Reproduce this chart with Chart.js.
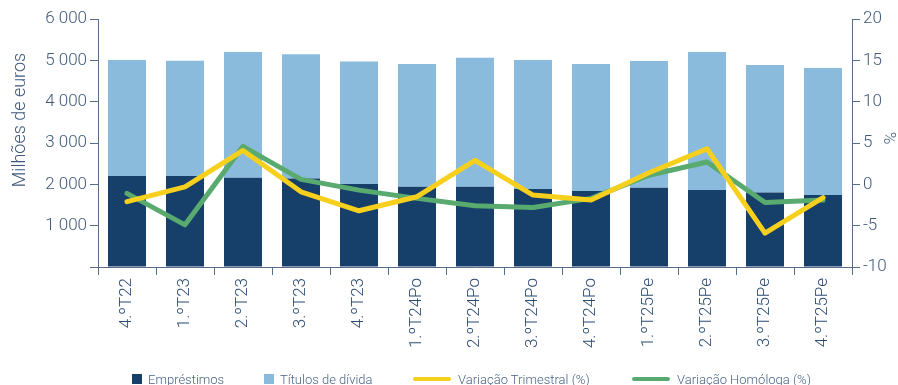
<!DOCTYPE html>
<html>
<head>
<meta charset="utf-8">
<script src="https://cdn.jsdelivr.net/npm/chart.js@4/dist/chart.umd.min.js"></script>
<style>
  html, body { margin: 0; padding: 0; background: #ffffff; }
  #wrap { position: relative; width: 898px; height: 385px; overflow: hidden; }
  #chart { position: absolute; left: 0; top: 0; }
  #legend { position: absolute; left: 0; top: 371px; width: 898px; height: 16px;
            font-family: Roboto, "Liberation Sans", sans-serif; font-weight: 300;
            font-size: 13px; color: #4a6484; }
  .item { position: absolute; top: 0; display: flex; align-items: center; height: 16px; white-space: nowrap; }
  .box { width: 10px; height: 10px; margin-right: 6px; }
  .ln { width: 38px; height: 4px; border-radius: 2px; margin-right: 7px; }
</style>
</head>
<body>
<div id="wrap">
  <canvas id="chart" width="898" height="385"></canvas>
  <div id="legend"></div>
</div>
<script>
// Quarters shown on the category axis
const categories = ['4.ºT22', '1.ºT23', '2.ºT23', '3.ºT23', '4.ºT23', '1.ºT24Po', '2.ºT24Po',
                    '3.ºT24Po', '4.ºT24Po', '1.ºT25Pe', '2.ºT25Pe', '3.ºT25Pe', '4.ºT25Pe'];

// Stock, millions of euros
const emprestimos = [2200, 2200, 2160, 2140, 2010, 1940, 1940, 1890, 1840, 1920, 1860, 1800, 1740];
const titulosDivida = [2810, 2790, 3040, 3010, 2960, 2970, 3120, 3120, 3070, 3065, 3340, 3090, 3075];

// Rates of change, %
const variacaoTrimestral = [-2.1, -0.3, 4.1, -0.9, -3.2, -1.5, 2.9, -1.3, -1.9, 1.4, 4.3, -5.9, -1.6];
const variacaoHomologa = [-1.1, -4.9, 4.6, 0.6, -0.7, -1.7, -2.6, -2.8, -1.7, 1.1, 2.7, -2.2, -1.9];

// Axis ticks (the zero of the stock axis carries a tick mark but no label)
const leftTicks = [0, 1000, 2000, 3000, 4000, 5000, 6000];
const rightTicks = [-10, -5, 0, 5, 10, 15, 20];

const seriesNames = ['Empréstimos', 'Títulos de dívida', 'Variação Trimestral (%)', 'Variação Homóloga (%)'];

const C = {
  navy: '#163f69',
  light: '#8bbbdc',
  yellow: '#f7cf1d',
  green: '#59aa6f',
  axis: '#566d8c',
  text: '#40597b',
  xText: '#2b4b73'
};

const FONT = 'Roboto, "Liberation Sans", sans-serif';

function fmtThousands(v) {
  return String(v).replace(/\B(?=(\d{3})+(?!\d))/g, ' ');
}

// Axis titles placed beside the value axes
const axisTitles = {
  id: 'axisTitles',
  afterDraw(chart) {
    const ctx = chart.ctx;
    ctx.save();
    ctx.fillStyle = C.text;
    ctx.font = '300 18px ' + FONT;
    ctx.textAlign = 'center';
    ctx.textBaseline = 'middle';
    ctx.translate(20, 120);
    ctx.rotate(-Math.PI / 2);
    ctx.fillText('Milhões de euros', 0, 0);
    ctx.restore();

    ctx.save();
    ctx.fillStyle = C.text;
    ctx.font = '300 17px ' + FONT;
    ctx.textAlign = 'center';
    ctx.textBaseline = 'middle';
    ctx.translate(888, 138);
    ctx.rotate(Math.PI / 2);
    ctx.fillText('%', 0, 0);
    ctx.restore();
  }
};

const tickFont = { family: FONT, size: 17, weight: '300' };

const chart = new Chart(document.getElementById('chart'), {
  type: 'bar',
  data: {
    labels: categories,
    datasets: [
      { type: 'bar', label: seriesNames[0], data: emprestimos, backgroundColor: C.navy,
        yAxisID: 'y', stack: 's', order: 3, barPercentage: 0.655, categoryPercentage: 1 },
      { type: 'bar', label: seriesNames[1], data: titulosDivida, backgroundColor: C.light,
        yAxisID: 'y', stack: 's', order: 3, barPercentage: 0.655, categoryPercentage: 1 },
      { type: 'line', label: seriesNames[2], data: variacaoTrimestral, borderColor: C.yellow,
        backgroundColor: C.yellow, borderWidth: 5, pointRadius: 0, tension: 0,
        borderCapStyle: 'round', borderJoinStyle: 'round', yAxisID: 'y1', order: 1 },
      { type: 'line', label: seriesNames[3], data: variacaoHomologa, borderColor: C.green,
        backgroundColor: C.green, borderWidth: 5, pointRadius: 0, tension: 0,
        borderCapStyle: 'round', borderJoinStyle: 'round', yAxisID: 'y1', order: 2 }
    ]
  },
  options: {
    responsive: false,
    animation: false,
    layout: { padding: { top: 19, left: 0, right: 0, bottom: 0 } },
    plugins: {
      legend: { display: false },
      tooltip: { enabled: false }
    },
    scales: {
      x: {
        stacked: true,
        offset: true,
        grid: { display: true, drawOnChartArea: false, offset: true, tickLength: 8,
                color: C.axis, lineWidth: 1 },
        border: { display: true, color: C.axis, width: 1 },
        ticks: { maxRotation: 90, minRotation: 90, autoSkip: false, padding: 3,
                 color: C.xText, font: tickFont },
        afterFit(s) { s.height = 118; }
      },
      y: {
        position: 'left',
        stacked: true,
        min: leftTicks[0],
        max: leftTicks[leftTicks.length - 1],
        afterBuildTicks(s) { s.ticks = leftTicks.map(v => ({ value: v })); },
        grid: { display: true, drawOnChartArea: false, tickLength: 8, color: C.axis, lineWidth: 1 },
        border: { display: true, color: C.axis, width: 1 },
        ticks: { color: C.text, font: tickFont, padding: 3,
                 callback: v => (v === 0 ? '' : fmtThousands(v)) },
        afterFit(s) { s.width = 98; }
      },
      y1: {
        position: 'right',
        min: rightTicks[0],
        max: rightTicks[rightTicks.length - 1],
        afterBuildTicks(s) { s.ticks = rightTicks.map(v => ({ value: v })); },
        grid: { display: true, drawOnChartArea: false, tickLength: 8, color: C.axis, lineWidth: 1 },
        border: { display: true, color: C.axis, width: 1 },
        ticks: { color: C.text, font: tickFont, padding: 3 },
        afterFit(s) { s.width = 46; }
      }
    }
  },
  plugins: [axisTitles]
});

// Legend built from the chart's own datasets
const legendPos = [132, 264, 413, 632];
const legendEl = document.getElementById('legend');
chart.data.datasets.forEach((ds, i) => {
  const item = document.createElement('div');
  item.className = 'item';
  item.style.left = legendPos[i] + 'px';
  const mark = document.createElement('span');
  mark.className = ds.type === 'line' ? 'ln' : 'box';
  mark.style.background = ds.type === 'line' ? ds.borderColor : ds.backgroundColor;
  const txt = document.createElement('span');
  txt.textContent = ds.label;
  item.appendChild(mark);
  item.appendChild(txt);
  legendEl.appendChild(item);
});
</script>
</body>
</html>
